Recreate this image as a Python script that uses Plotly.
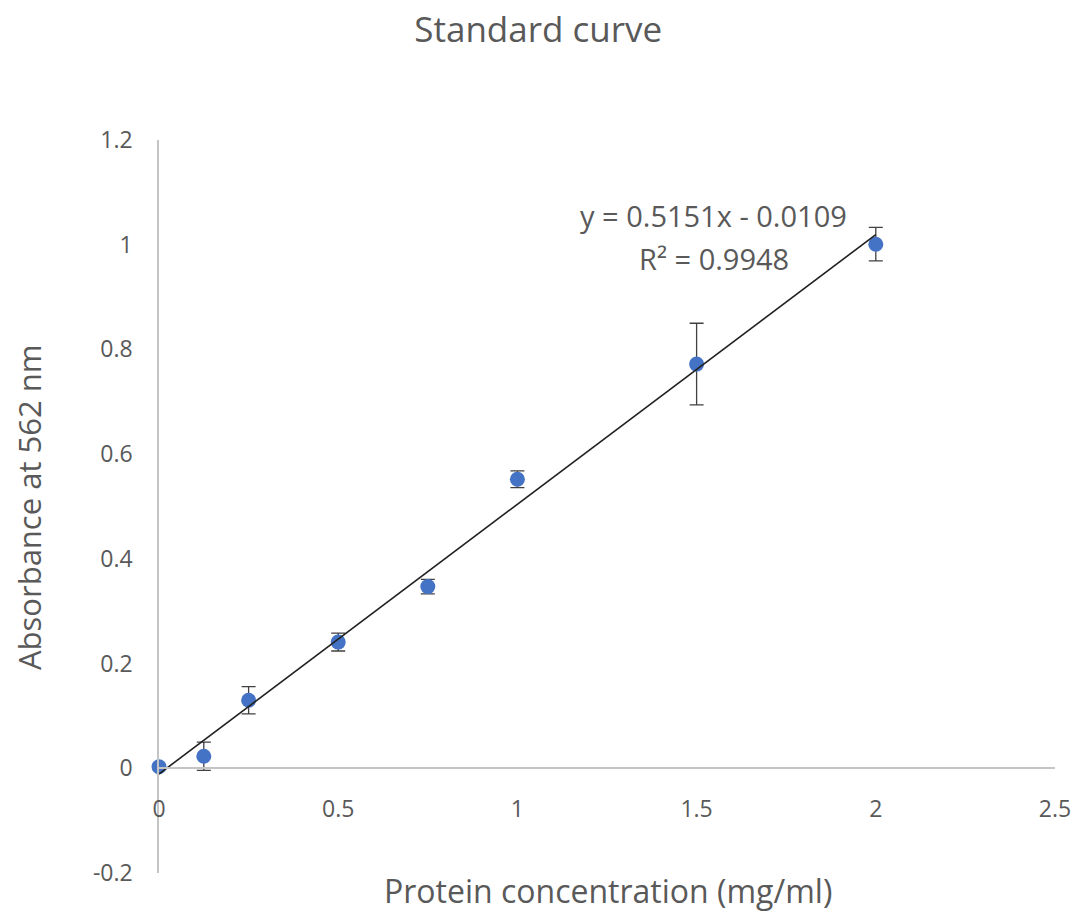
import plotly.graph_objects as go

# Data
concentration = [0, 0.125, 0.25, 0.5, 0.75, 1.0, 1.5, 2.0]
absorbance = [0.003, 0.023, 0.130, 0.241, 0.347, 0.552, 0.772, 1.001]
abs_error = [0.0, 0.027, 0.026, 0.017, 0.014, 0.016, 0.078, 0.032]

slope = 0.5151
intercept = -0.0109
r_squared = 0.9948

x_tickvals = [0, 0.5, 1, 1.5, 2, 2.5]
x_ticktext = ["0", "0.5", "1", "1.5", "2", "2.5"]
y_tickvals = [-0.2, 0, 0.2, 0.4, 0.6, 0.8, 1.0, 1.2]
y_ticktext = ["-0.2", "0", "0.2", "0.4", "0.6", "0.8", "1", "1.2"]
x_range = [0, 2.5]
y_range = [-0.2, 1.2]

trend_x = [min(concentration), max(concentration)]
trend_y = [slope * v + intercept for v in trend_x]

FONT = "Open Sans"
TXT = "#595959"
AXIS = "#C4C4C4"

fig = go.Figure()
fig.add_trace(go.Scatter(
    x=concentration, y=absorbance, mode="markers",
    marker=dict(color="#4472C4", size=15),
    error_y=dict(type="data", array=abs_error, visible=True,
                 color="#404040", thickness=1.3, width=7),
    cliponaxis=False, showlegend=False,
))
fig.add_trace(go.Scatter(
    x=trend_x, y=trend_y, mode="lines",
    line=dict(color="#202020", width=1.6),
    cliponaxis=False, showlegend=False,
))

fig.update_layout(
    width=1083, height=915,
    margin=dict(l=159, r=28, t=140, b=42),
    paper_bgcolor="white", plot_bgcolor="white",
    font=dict(family=FONT, color=TXT),
    title=dict(text="Standard curve", x=0.497, xref="container", xanchor="center",
               y=1 - 30 / 915, yref="container", yanchor="middle",
               font=dict(size=35, color=TXT, family=FONT)),
    xaxis=dict(range=x_range, tickvals=x_tickvals, ticktext=x_ticktext,
               showgrid=False, zeroline=False, showline=True, linecolor=AXIS, linewidth=1.5,
               anchor="free", position=(0 - y_range[0]) / (y_range[1] - y_range[0]),
               ticks="", ticklabelstandoff=20,
               tickfont=dict(size=23, color=TXT, family=FONT)),
    yaxis=dict(range=y_range, tickvals=y_tickvals, ticktext=y_ticktext,
               showgrid=False, zeroline=False, showline=True, linecolor=AXIS, linewidth=1.5,
               ticks="", ticklabelstandoff=20,
               tickfont=dict(size=23, color=TXT, family=FONT)),
    annotations=[
        dict(text="Protein concentration (mg/ml)", xref="paper", yref="paper",
             x=(608 - 159) / 896, y=(873 - 890) / 733, xanchor="center", yanchor="middle",
             showarrow=False, font=dict(size=32, color=TXT, family=FONT)),
        dict(text="Absorbance at 562 nm", xref="paper", yref="paper",
             x=(29 - 159) / 896, y=(873 - 508) / 733, xanchor="center", yanchor="middle",
             textangle=-90, showarrow=False, font=dict(size=31, color=TXT, family=FONT)),
        dict(text=f"y = {slope:.4f}x - {abs(intercept):.4f}", xref="x", yref="y",
             x=(713 - 159) / 358.4, y=(768 - 215) / 523.3, xanchor="center", yanchor="middle",
             showarrow=False, font=dict(size=29, color=TXT, family=FONT)),
        dict(text=f"R² = {r_squared:.4f}", xref="x", yref="y",
             x=(714 - 159) / 358.4, y=(768 - 258) / 523.3, xanchor="center", yanchor="middle",
             showarrow=False, font=dict(size=29, color=TXT, family=FONT)),
    ],
)

fig.write_html("out.html")
